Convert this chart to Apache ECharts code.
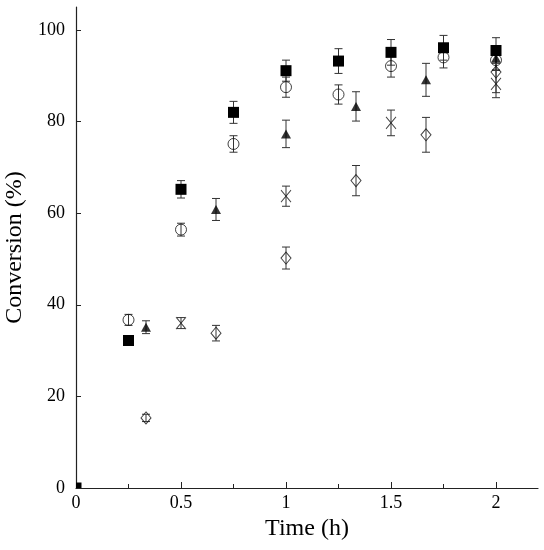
<!DOCTYPE html>
<html>
<head>
<meta charset="UTF-8">
<title>Conversion vs time</title>
<script type="text/javascript" src="https://cdn.jsdelivr.net/npm/echarts@6/dist/echarts.min.js"></script>
<style type="text/css">
	html, body { margin: 0; padding: 0; background: #fff; }
	#chart { width: 544px; height: 550px; }
</style>
</head>
<body>
<div id="chart"></div>
<script type="text/javascript">
	// 数据
	var xTicks = [0, 0.5, 1, 1.5, 2];
	var xMinorTicks = [0.25, 0.75, 1.25, 1.75];
	var yTicks = [0, 20, 40, 60, 80, 100];

	var timeSquare = [0, 0.25, 0.5, 0.75, 1, 1.25, 1.5, 1.75, 2];
	var convSquare = [0, 32.2, 65.2, 82.0, 91.1, 93.2, 95.1, 96.1, 95.5];
	var errSquare = [0, 0.8, 1.9, 2.4, 2.3, 2.7, 2.8, 2.7, 2.8];

	var timeCircle = [0.25, 0.5, 0.75, 1, 1.25, 1.5, 1.75, 2];
	var convCircle = [36.7, 56.4, 75.1, 87.5, 85.9, 92.1, 94.0, 93.4];
	var errCircle = [1.2, 1.4, 1.8, 2.2, 2.1, 2.4, 2.3, 2.2];

	var timeTriangle = [1 / 3, 2 / 3, 1, 4 / 3, 5 / 3, 2];
	var convTriangle = [35.1, 60.8, 77.3, 83.3, 89.1, 93.8];
	var errTriangle = [1.4, 2.4, 3.0, 3.2, 3.6, 2.6];

	var timeCross = [0.5, 1, 1.5, 2];
	var convCross = [36.0, 63.7, 79.7, 88.2];
	var errCross = [1.2, 2.2, 2.8, 3.0];

	var timeDiamond = [1 / 3, 2 / 3, 1, 4 / 3, 5 / 3, 2];
	var convDiamond = [15.3, 33.8, 50.2, 67.1, 77.1, 90.8];
	var errDiamond = [0.8, 1.7, 2.4, 3.3, 3.8, 4.5];

	var font = "'Liberation Serif', 'DejaVu Serif', serif";

	function pts(t, v, e) {
		var out = [];
		for(var i = 0; i < t.length; i++) {
			out.push(e ? [t[i], v[i], e[i]] : [t[i], v[i]]);
		}
		return out;
	}

	// 误差线
	function errorBars(t, v, e) {
		return {
			type: 'custom',
			z: 1,
			silent: true,
			data: pts(t, v, e),
			renderItem: function(params, api) {
				var x = api.value(0), y = api.value(1), d = api.value(2);
				if(!d) return;
				var p1 = api.coord([x, y + d]);
				var p2 = api.coord([x, y - d]);
				var hw = 4;
				var st = { stroke: '#333', lineWidth: 1 };
				return {
					type: 'group',
					children: [
						{ type: 'line', shape: { x1: p1[0], y1: p1[1], x2: p2[0], y2: p2[1] }, style: st },
						{ type: 'line', shape: { x1: p1[0] - hw, y1: p1[1], x2: p1[0] + hw, y2: p1[1] }, style: st },
						{ type: 'line', shape: { x1: p2[0] - hw, y1: p2[1], x2: p2[0] + hw, y2: p2[1] }, style: st }
					]
				};
			}
		};
	}

	function scatter(t, v, symbol, size, filled) {
		return {
			type: 'scatter',
			z: 3,
			symbol: symbol,
			symbolSize: size,
			data: pts(t, v),
			itemStyle: filled ? { color: '#000' } : { color: 'rgba(0,0,0,0)', borderColor: '#111', borderWidth: 1 },
			emphasis: { disabled: true }
		};
	}

	var chart = echarts.init(document.getElementById('chart'));
	var op = {
		animation: false,
		grid: { left: 76, right: 6, top: 7, bottom: 62, outerBoundsMode: 'none' },
		xAxis: [{
			type: 'value',
			min: 0,
			max: 2.2,
			name: 'Time (h)',
			nameLocation: 'middle',
			nameGap: 29,
			nameTextStyle: { fontFamily: font, fontSize: 24, color: '#000' },
			axisLine: { show: true, onZero: false, lineStyle: { color: '#222', width: 1.2 } },
			axisTick: { show: true, inside: true, length: 6, customValues: xTicks, lineStyle: { color: '#222' } },
			axisLabel: { customValues: xTicks, margin: 6, fontFamily: font, fontSize: 18, color: '#000' },
			splitLine: { show: false }
		}, {
			type: 'value',
			min: 0,
			max: 2.2,
			position: 'bottom',
			axisLine: { show: false },
			axisTick: { show: true, inside: true, length: 4, customValues: xMinorTicks, lineStyle: { color: '#222' } },
			axisLabel: { show: false },
			splitLine: { show: false }
		}],
		yAxis: {
			type: 'value',
			min: 0,
			max: 105,
			name: 'Conversion (%)',
			nameLocation: 'middle',
			nameGap: 44,
			nameTextStyle: { fontFamily: font, fontSize: 24, color: '#000' },
			axisLine: { show: true, lineStyle: { color: '#222', width: 1.2 } },
			axisTick: { show: true, inside: true, length: 5, customValues: yTicks, lineStyle: { color: '#222' } },
			axisLabel: { customValues: yTicks, margin: 11, fontFamily: font, fontSize: 18, color: '#000' },
			splitLine: { show: false }
		},
		series: [
			errorBars(timeDiamond, convDiamond, errDiamond),
			errorBars(timeCross, convCross, errCross),
			errorBars(timeTriangle, convTriangle, errTriangle),
			errorBars(timeCircle, convCircle, errCircle),
			errorBars(timeSquare, convSquare, errSquare),
			scatter(timeDiamond, convDiamond, 'diamond', [10, 12], false),
			scatter(timeCross, convCross, 'path://M0,0L10,12M10,0L0,12', [10, 12], false),
			scatter(timeTriangle, convTriangle, 'triangle', [10, 9], true),
			scatter(timeCircle, convCircle, 'circle', 11, false),
			{
				// 方块，按网格裁剪（原点处只露出一角）
				type: 'custom',
				z: 4,
				silent: true,
				data: pts(timeSquare, convSquare),
				renderItem: function(params, api) {
					var c = api.coord([api.value(0), api.value(1)]);
					var s = 11;
					var shape = echarts.graphic.clipRectByRect(
						{ x: c[0] - s / 2, y: c[1] - s / 2, width: s, height: s },
						{ x: params.coordSys.x, y: params.coordSys.y, width: params.coordSys.width, height: params.coordSys.height }
					);
					if(!shape) return;
					return { type: 'rect', shape: shape, style: { fill: '#000' } };
				}
			}
		]
	};
	chart.setOption(op);
</script>
</body>
</html>
